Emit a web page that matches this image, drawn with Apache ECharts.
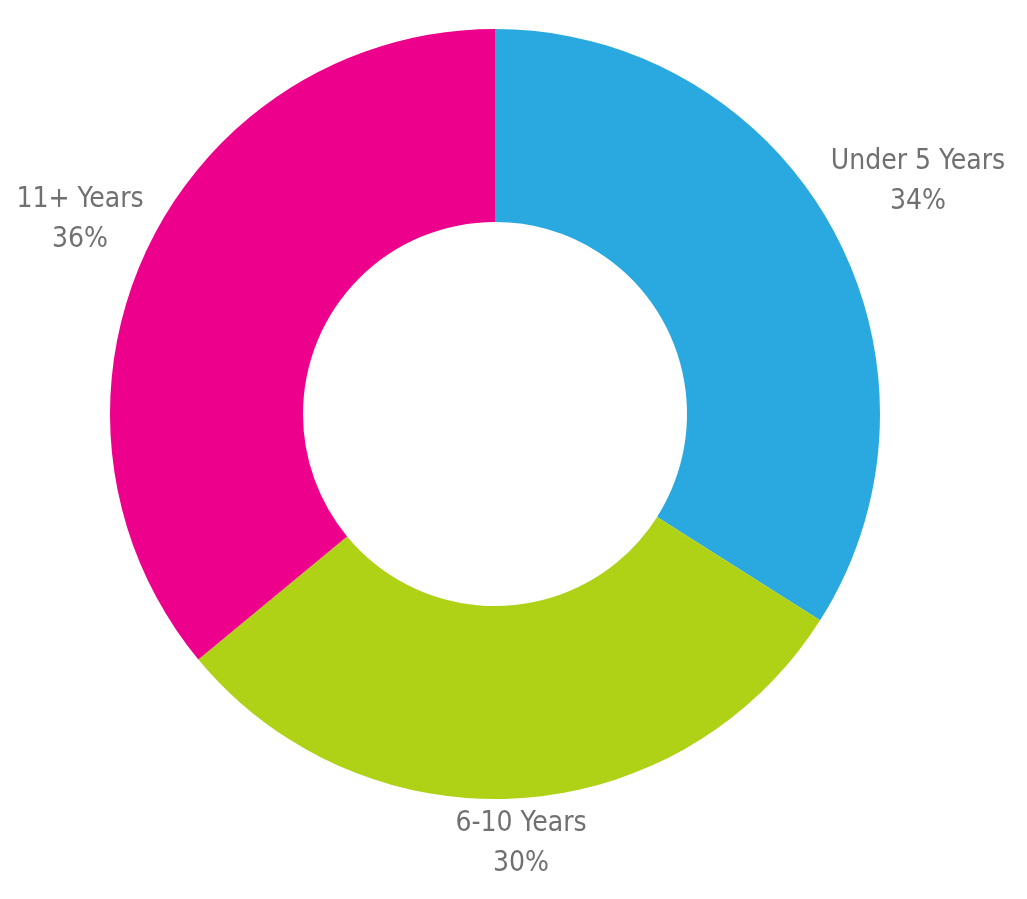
<!DOCTYPE html>
<html>
<head>
<meta charset="utf-8">
<script src="https://cdn.jsdelivr.net/npm/echarts@6/dist/echarts.min.js"></script>
<style>
  html, body { margin: 0; padding: 0; background: #fff; }
  #chart { width: 1027px; height: 899px; }
</style>
</head>
<body>
<div id="chart"></div>
<script>
const categories = ['Under 5 Years', '6-10 Years', '11+ Years']
const shares = [34, 30, 36]
const colors = ['#29A9E0', '#AFD216', '#EC008C']

// label centres (px), one per slice
const labelPos = [[918, 182], [521, 844], [80, 220]]

const chart = echarts.init(document.getElementById('chart'), null, { renderer: 'canvas' })

chart.setOption({
  animation: false,
  series: [{
    type: 'pie',
    center: [495, 414],
    radius: [192, 385],
    startAngle: 90,
    clockwise: true,
    data: categories.map((name, i) => ({
      name,
      value: shares[i],
      itemStyle: { color: colors[i] }
    })),
    itemStyle: { borderWidth: 0 },
    label: {
      show: true,
      position: 'outside',
      overflow: 'none',
      formatter: p => p.name + '\n' + p.value + '%',
      fontFamily: '"Liberation Sans Narrow", "DejaVu Sans Condensed", sans-serif',
      fontSize: 28,
      lineHeight: 40,
      color: '#707070',
      align: 'center'
    },
    labelLine: { show: false },
    labelLayout: p => ({
      x: labelPos[p.dataIndex][0],
      y: labelPos[p.dataIndex][1],
      align: 'center',
      verticalAlign: 'middle'
    }),
    emphasis: { disabled: true }
  }]
})
</script>
</body>
</html>
